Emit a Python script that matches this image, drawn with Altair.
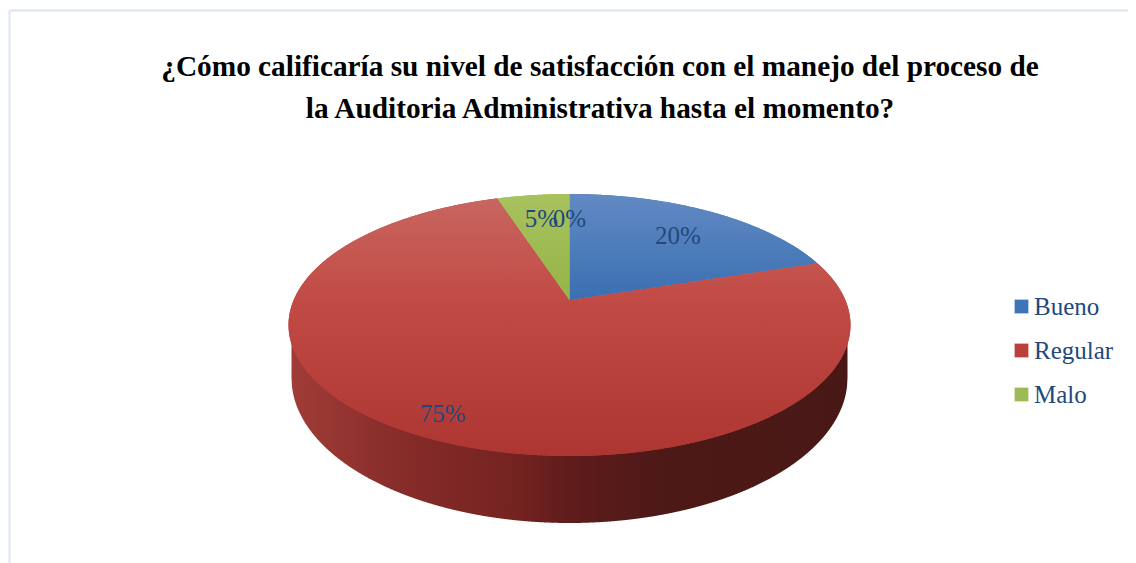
import math
import altair as alt
import pandas as pd

# ---- chart values ----
TITLE = ["¿Cómo calificaría su nivel de satisfacción con el manejo del proceso de",
         "la Auditoria Administrativa hasta el momento?"]
CATEGORIES = ["Bueno", "Regular", "Malo"]
SHARES = [20, 75, 5]
COLORS = ["#3f75b7", "#bb403c", "#9dbb55"]
LABEL_NAMES = ["20%", "75%", "5%", "0%"]
LABEL_MID_SHARES = [10.5, 57.5, 97.5, 100]   # cumulative share at each label
LABEL_RADII = [0.71, 0.865, 0.74, 0.73]

# ---- geometry of the 3-D pie, in page pixels ----
W, H = 1120, 555
CX, CY, RX, RY = 569.5, 325.0, 281.0, 131.0
LOW_RX, LOW_CY, LOW_RY = 278.0, 378.0, 145.0
A = 0.19  # perspective shift of the pie's centre towards the back


def rim(share, r=1.0):
    t = 2 * math.pi * share / 100
    px, py = r * math.sin(t), -r * math.cos(t)
    d = 1 - A * py
    return CX + RX * math.sqrt(1 - A * A) * px / d, CY + RY * (py - A) / d


def slice_rows(name, start, end):
    n = max(2, int((end - start) * 6))
    pts = [rim(0, 0)] + [rim(start + (end - start) * i / n) for i in range(n + 1)] + [rim(0, 0)]
    xs_all = sorted({round(p[0], 2) for p in pts} | {float(x) for x in range(int(CX - RX), int(CX + RX) + 2)})
    lo_x, hi_x = min(p[0] for p in pts), max(p[0] for p in pts)
    rows = []
    for x in xs_all:
        if x < lo_x or x > hi_x:
            continue
        found = []
        for (x0, y0), (x1, y1) in zip(pts, pts[1:]):
            if min(x0, x1) <= x <= max(x0, x1):
                if abs(x1 - x0) < 1e-9:
                    found += [y0, y1]
                else:
                    found.append(y0 + (y1 - y0) * (x - x0) / (x1 - x0))
        if found:
            rows.append({"name": name, "x": x, "y": min(found), "y2": max(found)})
    return rows


slices, acc = [], 0
for nm, sh in zip(CATEGORIES, SHARES):
    slices += slice_rows(nm, acc, acc + sh)
    acc += sh
slices_df = pd.DataFrame(slices)

wall_rows = []
for i in range(0, 1113):
    x = CX - LOW_RX + i * 0.5
    u = min(1.0, abs(x - CX) / RX)
    v = min(1.0, abs(x - CX) / LOW_RX)
    wall_rows.append({"x": x,
                      "y": CY + RY * math.sqrt(1 - u * u) - 2,
                      "y2": LOW_CY + LOW_RY * math.sqrt(1 - v * v)})
wall_df = pd.DataFrame(wall_rows)

labels = []
for txt, m, r in zip(LABEL_NAMES, LABEL_MID_SHARES, LABEL_RADII):
    px, py = rim(m, r)
    labels.append({"t": txt, "x": px, "y": py})
labels_df = pd.DataFrame(labels)

frame_top = pd.DataFrame({"x": [9.5], "x2": [1128.0], "y": [10.5]})
frame_left = pd.DataFrame({"x": [9.5], "y": [10.5], "y2": [563.0]})

xs = alt.Scale(domain=[8, 8 + W], range=[0, W])
ys = alt.Scale(domain=[8 + H, 8], range=[H, 0])
X = alt.X("x:Q", scale=xs, axis=None)
Y = alt.Y("y:Q", scale=ys, axis=None)


def gradient(stops, horizontal=False):
    return alt.LinearGradient(
        gradient="linear", x1=0, y1=0, x2=1 if horizontal else 0, y2=0 if horizontal else 1,
        stops=[alt.GradientStop(offset=o, color=c) for o, c in stops])


wall_fill = gradient([(0.0, "#a03c37"), (0.2, "#862c29"), (0.4, "#752321"),
                      (0.5, "#5f1c1b"), (0.65, "#4e1917"), (1.0, "#491816")], horizontal=True)
SLICE_STOPS = {
    "Bueno": [(0.0, "#628ac3"), (1.0, "#3a6fb2")],
    "Regular": [(0.0, "#c8665f"), (0.4, "#c24a45"), (1.0, "#ad3632")],
    "Malo": [(0.0, "#a8c25e"), (1.0, "#95b448")],
}

FONT = "Liberation Serif"
NAVY = "#1f497d"

top_rule = alt.Chart(frame_top).mark_rule(color="#dce6f2", strokeWidth=2).encode(
    x=X, x2="x2:Q", y=Y)
left_rule = alt.Chart(frame_left).mark_rule(color="#dce6f2", strokeWidth=2).encode(
    x=X, y=Y, y2="y2:Q")
wall = alt.Chart(wall_df).mark_area(fill=wall_fill).encode(x=X, y=Y, y2="y2:Q")
face = alt.Chart(slices_df).mark_area().encode(
    x=X, y=Y, y2="y2:Q",
    color=alt.Color("name:N",
                    scale=alt.Scale(domain=CATEGORIES, range=COLORS),
                    legend=alt.Legend(orient="none", legendX=1001, legendY=286, title=None,
                                      symbolType="square", symbolSize=190, symbolStrokeWidth=0,
                                      labelFont=FONT, labelFontSize=25, labelColor=NAVY,
                                      labelOffset=0, rowPadding=18)))
shades = [
    alt.Chart(slices_df[slices_df["name"] == nm]).mark_area(fill=gradient(SLICE_STOPS[nm])).encode(
        x=X, y=Y, y2="y2:Q")
    for nm in CATEGORIES
]
text = alt.Chart(labels_df).mark_text(font=FONT, fontSize=25, color=NAVY).encode(x=X, y=Y, text="t:N")

chart = alt.layer(top_rule, left_rule, wall, face, *shades, text).properties(
    width=W, height=H, padding=0,
    autosize=alt.AutoSizeParams(type="none"),
    title=alt.TitleParams(text=TITLE, font=FONT, fontSize=29.3, fontWeight="bold", color="#000000",
                          anchor="middle", frame="group", dx=32, dy=116, lineHeight=41.5, offset=0),
).configure_view(stroke=None)

chart.save("out.html", embed_options={"renderer": "svg", "actions": False})
